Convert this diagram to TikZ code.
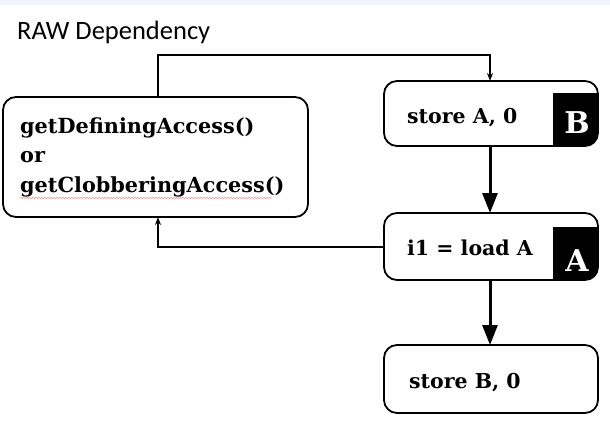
\documentclass[tikz,border=0pt]{standalone}
\usepackage{fontspec}
\setmainfont{DejaVu Serif}
\newfontfamily\titlefont{Carlito}
\usetikzlibrary{arrows.meta,decorations.pathmorphing}
\definecolor{bandblue}{HTML}{F1F5FB}
\tikzset{
  box/.style={draw=black, line width=1.8pt, rounded corners=13pt},
  lbl/.style={font=\bfseries\fontsize{20.5}{20.5}\selectfont, anchor=base west, inner sep=0pt},
  lblw/.style={font=\bfseries\fontsize{20.8}{20.8}\selectfont, anchor=base west, inner sep=0pt},
  tag/.style={text=white, font=\bfseries\fontsize{30}{30}\selectfont, inner sep=0pt},
  thin/.style={line width=1.3pt, -{Stealth[length=8pt,width=6pt]}},
  thick/.style={line width=3pt, -{Triangle[length=20pt,width=15pt]}},
}
\begin{document}
\begin{tikzpicture}[x=1pt,y=-1pt]
\useasboundingbox (0,0) rectangle (610,436);
\fill[bandblue] (0,0) rectangle (610,5);
\node[font=\titlefont\fontsize{26.5}{26.5}\selectfont, anchor=base west, inner sep=0pt] (title) at (17,40) {RAW Dependency};
% left box
\draw[box] (3,97) rectangle (308,217);
\coordinate (ltop) at (158,97);
\coordinate (lbot) at (158,217);
\node[lblw] (t1) at (20,133) {getDefiningAccess()};
\node[lblw] (t2) at (20,162) {or};
\node[lblw] (t3) at (20,192) {getClobberingAccess()};
\draw[red!40, line width=0.6pt, decorate, decoration={snake, amplitude=0.8pt, segment length=3pt}] (20,198) -- (272,198);
% store A
\begin{scope}
\clip[rounded corners=13pt] (384,81) rectangle (598,146);
\fill[black] (553,93) rectangle (600,148);
\end{scope}
\draw[box] (384,81) rectangle (598,146);
\coordinate (atop) at (490,81);
\coordinate (abot) at (490,146);
\node[lbl] (sa) at (407,123) {store A, 0};
\node[tag, anchor=base] (tb) at (577,133) {B};
% load
\begin{scope}
\clip[rounded corners=13pt] (384,213) rectangle (598,280);
\fill[black] (553,227) rectangle (600,282);
\end{scope}
\draw[box] (384,213) rectangle (598,280);
\coordinate (ltop2) at (490,213);
\coordinate (lbot2) at (490,280);
\coordinate (lleft) at (384,247);
\node[lbl] (ld) at (407,255) {i1 = load A};
\node[tag, anchor=base] (ta) at (577,271) {A};
% store B
\draw[box] (384,345) rectangle (598,413);
\coordinate (btop) at (490,345);
\node[lbl] (sb) at (409,388) {store B, 0};
% connectors
\draw[thin] (ltop) -- (158,55) -- (490,55) -- (atop);
\draw[thick] (abot) -- (ltop2);
\draw[thick] (lbot2) -- (btop);
\draw[thin] (lleft) -- (158,247) -- (lbot);
\end{tikzpicture}
\end{document}
